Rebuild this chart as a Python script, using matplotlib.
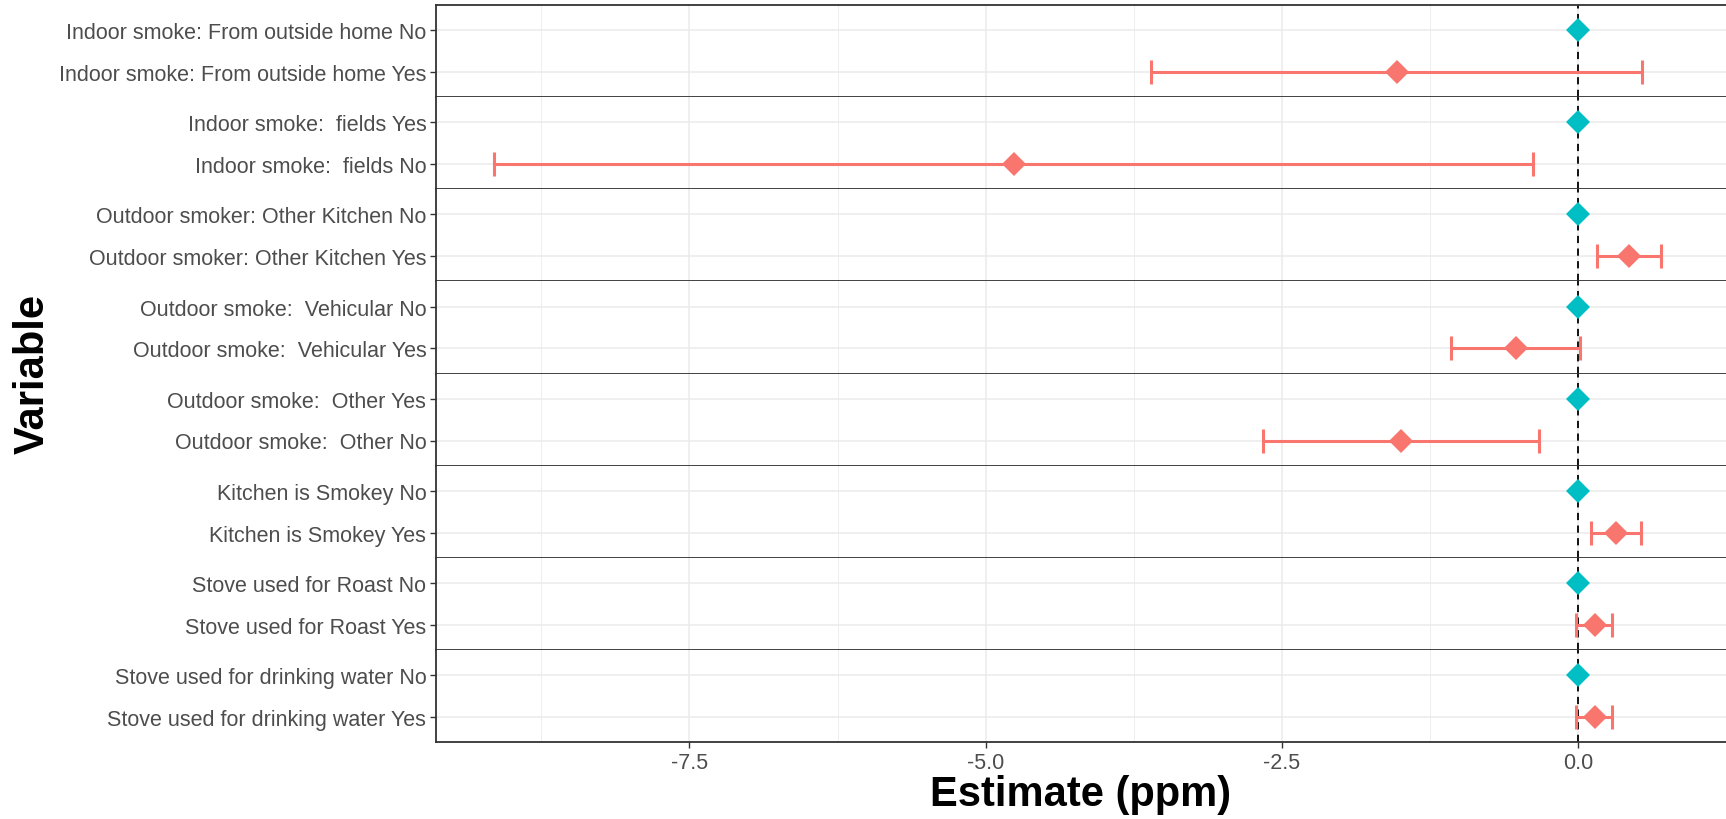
import matplotlib
matplotlib.use("Agg")
import matplotlib.pyplot as plt
import numpy as np

plt.rcParams['font.family'] = ['Liberation Sans', 'DejaVu Sans']

# data: one facet per variable, reference level (cyan, 0) on top, other level (red) below
ref_labels = ['Indoor smoke: From outside home No', 'Indoor smoke:  fields Yes',
              'Outdoor smoker: Other Kitchen No', 'Outdoor smoke:  Vehicular No',
              'Outdoor smoke:  Other Yes', 'Kitchen is Smokey No',
              'Stove used for Roast No', 'Stove used for drinking water No']
cmp_labels = ['Indoor smoke: From outside home Yes', 'Indoor smoke:  fields No',
              'Outdoor smoker: Other Kitchen Yes', 'Outdoor smoke:  Vehicular Yes',
              'Outdoor smoke:  Other No', 'Kitchen is Smokey Yes',
              'Stove used for Roast Yes', 'Stove used for drinking water Yes']
ref_est = [0, 0, 0, 0, 0, 0, 0, 0]
estimate = [-1.53, -4.76, 0.43, -0.52, -1.49, 0.32, 0.14, 0.14]
ci_low = [-3.60, -9.15, 0.16, -1.07, -2.66, 0.11, -0.02, -0.02]
ci_high = [0.54, -0.38, 0.70, 0.02, -0.33, 0.53, 0.29, 0.29]

red = '#F8766D'
cyan = '#00BFC4'
border = '#333333'
gridc = '#EBEBEB'

W, H = 1726, 820
fig = plt.figure(figsize=(W / 100, H / 100), dpi=100)
axes = fig.subplots(len(ref_labels), 1, sharex=True,
                    gridspec_kw=dict(hspace=0, left=436 / W, right=1.0,
                                     top=1 - 6 / H, bottom=1 - 743 / H))

for i, ax in enumerate(axes):
    ax.set_ylim(2.6, 0.4)
    ax.set_yticks([1, 2])
    ax.set_yticklabels([ref_labels[i], cmp_labels[i]])
    ax.set_xlim(-9.64, 1.17)
    ax.set_xticks([-7.5, -5.0, -2.5, 0.0])
    ax.set_xticks([-8.75, -6.25, -3.75, -1.25, 1.25], minor=True)
    ax.grid(True, which='major', color=gridc, lw=1.1, zorder=0)
    ax.grid(True, which='minor', axis='x', color=gridc, lw=0.6, zorder=0)
    ax.set_axisbelow(True)

    ax.axvline(0, color='black', lw=1.3, ls=(0, (4, 3)), zorder=1)

    e = estimate[i]
    ax.errorbar([e], [2], xerr=[[e - ci_low[i]], [ci_high[i] - e]], fmt='none',
                ecolor=red, elinewidth=2.2, capsize=8.5, capthick=2.2, zorder=2)
    ax.plot([e], [2], marker='D', ms=12.5, mew=0, color=red, ls='none', zorder=3)
    ax.plot([ref_est[i]], [1], marker='D', ms=12.5, mew=0, color=cyan, ls='none', zorder=3)

    for side in ['left', 'bottom', 'top']:
        ax.spines[side].set_color(border)
        ax.spines[side].set_linewidth(1.3)
    ax.spines['right'].set_visible(False)
    if i > 0:
        ax.spines['top'].set_visible(False)

    ax.tick_params(axis='y', length=4, width=1, color=border, labelsize=15.5,
                   labelcolor='#4D4D4D', pad=3)
    ax.tick_params(axis='x', which='minor', length=0)
    ax.tick_params(axis='x', which='major', length=4, width=1, color=border,
                   labelsize=15.5, labelcolor='#4D4D4D', pad=3)
    if i < len(axes) - 1:
        ax.tick_params(axis='x', which='major', length=0)

axes[-1].set_xticklabels(['-7.5', '-5.0', '-2.5', '0.0'])

fig.text(1081 / W, 1 - 795 / H, 'Estimate (ppm)', ha='center', va='center',
         fontsize=30, fontweight='bold', color='black')
fig.text(33 / W, 1 - 374 / H, 'Variable', ha='center', va='center', rotation=90,
         fontsize=30, fontweight='bold', color='black')

fig.savefig('out.png', dpi=100)
